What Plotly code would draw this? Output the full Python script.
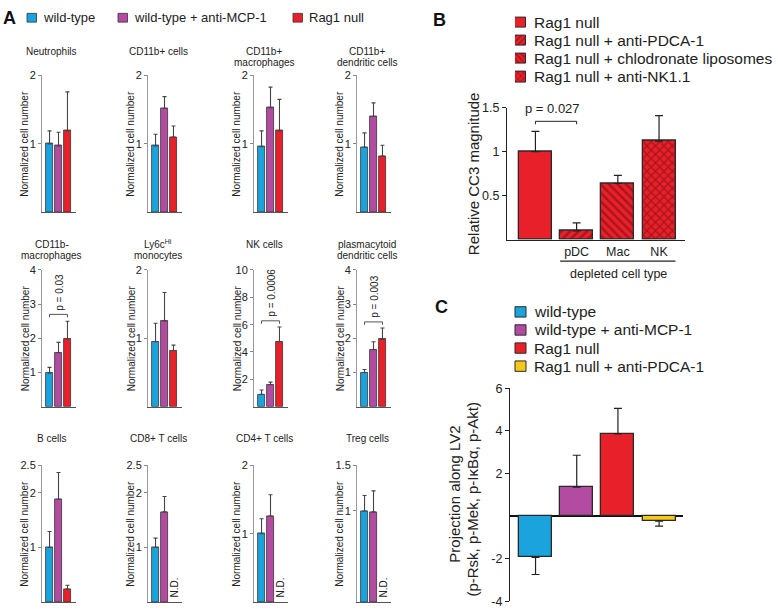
import plotly.graph_objects as go

# ------------------------------------------------------------------ data
group_names = ["wild-type", "wild-type + anti-MCP-1", "Rag1 null"]
group_colors = ["#1aa3dd", "#b34ba1", "#e8202a"]

panel_titles = ["Neutrophils", "CD11b+ cells", "CD11b+<br>macrophages", "CD11b+<br>dendritic cells",
                "CD11b-<br>macrophages", "Ly6c<sup>Hi</sup><br>monocytes", "NK cells",
                "plasmacytoid<br>dendritic cells",
                "B cells", "CD8+ T cells", "CD4+ T cells", "Treg cells"]
wt_mean = [1.00, 0.97, 0.96, 0.95, 0.98, 0.95, 0.90, 1.00, 1.00, 1.00, 1.00, 1.00]
wt_upper = [1.19, 1.14, 1.19, 1.16, 1.15, 1.22, 1.22, 1.09, 1.29, 1.17, 1.22, 1.17]
mcp_mean = [0.97, 1.52, 1.53, 1.40, 1.58, 1.25, 1.60, 1.67, 1.88, 1.65, 1.26, 0.99]
mcp_upper = [1.17, 1.69, 1.83, 1.60, 1.88, 1.67, 1.80, 1.90, 2.37, 1.93, 1.57, 1.22]
rag_mean = [1.19, 1.10, 1.19, 0.82, 1.98, 0.82, 4.75, 1.97, 0.24, None, None, None]
rag_upper = [1.76, 1.26, 1.65, 0.98, 2.50, 0.90, 5.83, 2.30, 0.31, None, None, None]
panel_ymax = [2, 2, 2, 2, 4, 2, 10, 4, 2.5, 2.5, 2, 1.5]
panel_ticks = [[1, 2], [1, 2], [1, 2], [1, 2], [1, 2, 3, 4], [1, 2], [2, 4, 6, 8, 10],
               [1, 2, 3, 4], [1, 2, 2.5], [1, 2, 2.5], [1, 2], [1, 1.5]]
pval_panel = [4, 6, 7]
pval_text = ["p = 0.03", "p = 0.0006", "p = 0.003"]
pval_y = [2.7, 6.28, 2.48]

b_labels = ["Rag1 null", "Rag1 null + anti-PDCA-1", "Rag1 null + chlodronate liposomes",
            "Rag1 null + anti-NK1.1"]
b_cats = ["", "pDC", "Mac", "NK"]
b_mean = [1.00, 0.10, 0.64, 1.12]
b_upper = [1.23, 0.19, 0.73, 1.41]
b_patterns = ["", "/", "\\", "x"]
b_ticks = [0.5, 1, 1.5]
b_pval = "p = 0.027"
b_pval_y = 1.345

c_labels = ["wild-type", "wild-type + anti-MCP-1", "Rag1 null", "Rag1 null + anti-PDCA-1"]
c_colors = ["#1aa3dd", "#b34ba1", "#e8202a", "#f6c918"]
c_mean = [-1.95, 1.35, 3.85, -0.25]
c_err_end = [-2.75, 2.85, 5.05, -0.48]
c_ticks = [-4, -2, 2, 4, 6]

# ------------------------------------------------------------------ layout helpers
W, H = 778, 615
FONT = "Liberation Sans, Arial, sans-serif"


def fx(px):
    return px / W


def fy(py):
    return 1 - py / H


def tick_str(v):
    return str(int(v)) if float(v).is_integer() else str(v)


fig = go.Figure()
lay = dict(width=W, height=H, margin=dict(l=0, r=0, t=0, b=0), plot_bgcolor="rgba(0,0,0,0)",
           paper_bgcolor="white", showlegend=False, font=dict(family=FONT, color="#222"),
           bargap=0)
annotations = []
shapes = []


def ax_names(n):
    return ("x" if n == 1 else f"x{n}", "y" if n == 1 else f"y{n}",
            "xaxis" if n == 1 else f"xaxis{n}", "yaxis" if n == 1 else f"yaxis{n}")


HIDDEN_AXIS = dict(showline=False, showticklabels=False, ticks="", showgrid=False,
                   zeroline=False, fixedrange=True)

# ------------------------------------------------------------------ panel A
col_x = [42, 148, 254, 357]
row_top = [70, 269, 469]
row_base = [210, 409, 609]
title_y = [46, 243, 442]
PW = 34

for i in range(12):
    n = i + 1
    xr, yr, xk, yk = ax_names(n)
    r, c = divmod(i, 4)
    a, top, base = col_x[c], row_top[r], row_base[r]
    means = [wt_mean[i], mcp_mean[i]]
    uppers = [wt_upper[i], mcp_upper[i]]
    if rag_mean[i] is not None:
        means.append(rag_mean[i])
        uppers.append(rag_upper[i])
    xs = list(range(len(means)))
    fig.add_trace(go.Bar(
        x=xs, y=means, width=0.88, xaxis=xr, yaxis=yr,
        marker=dict(color=group_colors[:len(means)], line=dict(color="#333", width=0.8)),
        error_y=dict(type="data", symmetric=False, array=[u - m for u, m in zip(uppers, means)],
                     arrayminus=[0] * len(means), color="#444", thickness=1.1, width=2),
    ))
    lay[xk] = dict(domain=[fx(a), fx(a + PW)], range=[-0.84, 2.95], showline=True,
                   linecolor="#555", linewidth=1, showticklabels=False, ticks="",
                   showgrid=False, zeroline=False, anchor=yr, fixedrange=True)
    lay[yk] = dict(domain=[fy(base), fy(top)], range=[0, panel_ymax[i] * 1.0005],
                   tickvals=panel_ticks[i],
                   ticktext=[tick_str(v) for v in panel_ticks[i]], ticks="outside", ticklen=3,
                   tickcolor="#888", showline=True, linecolor="#999", linewidth=1,
                   showgrid=False, zeroline=False, anchor=xr, tickfont=dict(size=11, color="#222"),
                   ticklabeloverflow="allow", fixedrange=True)
    for k, line in enumerate(panel_titles[i].split("<br>")):
        annotations.append(dict(text=line, x=fx(a + 10), y=fy(title_y[r] + 11 * k), xref="paper",
                                yref="paper", showarrow=False, xanchor="center", yanchor="middle",
                                font=dict(size=10, color="#222")))
    annotations.append(dict(text="Normalized cell number", x=fx(a - 17), y=fy((top + base) / 2),
                            xref="paper", yref="paper", showarrow=False, textangle=-90,
                            xanchor="center", yanchor="middle", font=dict(size=10, color="#222")))
    if rag_mean[i] is None:
        annotations.append(dict(text="N.D.", x=2.1, y=0, xref=xr, yref=yr, showarrow=False,
                                textangle=-90, xanchor="center", yanchor="bottom", yshift=3,
                                font=dict(size=10, color="#222")))

for pi, txt, yv in zip(pval_panel, pval_text, pval_y):
    n = pi + 1
    xr, yr, _, _ = ax_names(n)
    r = pi // 4
    ppu = (row_base[r] - row_top[r]) / panel_ymax[pi]
    t = 3.0 / ppu
    fig.add_trace(go.Scatter(x=[0, 0, 2, 2], y=[yv - t, yv, yv, yv - t], mode="lines",
                             line=dict(color="#555", width=1), xaxis=xr, yaxis=yr,
                             hoverinfo="skip"))
    annotations.append(dict(text=txt, x=1.15, y=yv, xref=xr, yref=yr, showarrow=False,
                            textangle=-90, xanchor="center", yanchor="bottom", yshift=2,
                            font=dict(size=10, color="#222")))

leg_a_sq = [27, 118, 293]
for name, col, sx in zip(group_names, group_colors, leg_a_sq):
    shapes.append(dict(type="rect", xref="paper", yref="paper", x0=fx(sx), x1=fx(sx + 9.5),
                       y0=fy(15.5), y1=fy(6.5), fillcolor=col, line=dict(color="#333", width=0.8)))
    annotations.append(dict(text=name, x=fx(sx + 14), y=fy(11), xref="paper", yref="paper",
                            showarrow=False, xanchor="left", yanchor="middle",
                            font=dict(size=13, color="#222")))

# ------------------------------------------------------------------ panel B
xr, yr, xk, yk = ax_names(13)
fig.add_trace(go.Bar(
    x=list(range(len(b_mean))), y=b_mean, width=0.8, xaxis=xr, yaxis=yr,
    marker=dict(color="#e8202a", line=dict(color="#2a2a2a", width=1.3),
                pattern=dict(shape=b_patterns, fgcolor="#6a0a0e", bgcolor="#e8202a",
                             size=6, solidity=0.4)),
    error_y=dict(type="data", symmetric=False, array=[u - m for u, m in zip(b_upper, b_mean)],
                 arrayminus=[0] * len(b_mean), color="#222", thickness=1.2, width=4),
))
lay[xk] = dict(domain=[fx(507), fx(685)], range=[-0.69, 3.63], showline=True, linecolor="#222",
               linewidth=1.3, tickvals=list(range(1, len(b_cats))), ticktext=b_cats[1:], ticks="",
               showgrid=False, zeroline=False, anchor=yr, tickfont=dict(size=12.5, color="#222"),
               ticklabeloverflow="allow", fixedrange=True)
lay[yk] = dict(domain=[fy(238), fy(103)], range=[0, 1.5005], tickmode="array",
               tickvals=b_ticks, ticktext=[tick_str(v) for v in b_ticks], ticks="outside",
               ticklen=4, tickcolor="#222", showline=True, linecolor="#222", linewidth=1.3,
               showgrid=False, zeroline=False, anchor=xr, tickfont=dict(size=12.5, color="#222"),
               ticklabeloverflow="allow", fixedrange=True)
# p-value bracket (B) drawn as a path in the panel's data coordinates
tb = 3.0 / (135 / 1.5)
shapes.append(dict(type="path", xref=xr, yref=yr,
                   path=f"M 0 {b_pval_y - tb} L 0 {b_pval_y} L 1 {b_pval_y} L 1 {b_pval_y - tb}",
                   line=dict(color="#222", width=1)))
annotations.append(dict(text=b_pval, x=0.42, y=b_pval_y, xref=xr, yref=yr, showarrow=False,
                        xanchor="center", yanchor="bottom", yshift=3,
                        font=dict(size=13, color="#222")))
shapes.append(dict(type="line", xref=xr, yref="paper", x0=0.6, x1=3.4, y0=fy(260), y1=fy(260),
                   line=dict(color="#222", width=1.2)))
annotations.append(dict(text="depleted cell type", x=fx(618), y=fy(273), xref="paper",
                        yref="paper", showarrow=False, xanchor="center", yanchor="middle",
                        font=dict(size=12.5, color="#222")))
annotations.append(dict(text="Relative CC3 magnitude", x=fx(473), y=fy(170), xref="paper",
                        yref="paper", showarrow=False, textangle=-90, xanchor="center",
                        yanchor="middle", font=dict(size=15, color="#222")))

# legend B: mini axis holding the patterned swatches
xr, yr, xk, yk = ax_names(15)
fig.add_trace(go.Bar(
    x=[1] * len(b_labels), y=list(range(len(b_labels))), orientation="h", width=0.58,
    xaxis=xr, yaxis=yr, hoverinfo="skip",
    marker=dict(color="#e8202a", line=dict(color="#2a2a2a", width=1),
                pattern=dict(shape=b_patterns, fgcolor="#6a0a0e", bgcolor="#e8202a",
                             size=4, solidity=0.4)),
))
b_rows = [16, 34.5, 53, 71.5]
step = b_rows[1] - b_rows[0]
lay[xk] = dict(domain=[fx(515), fx(526)], range=[0, 1], anchor=yr, **HIDDEN_AXIS)
lay[yk] = dict(domain=[fy(b_rows[-1] + step / 2), fy(b_rows[0] - step / 2)],
               range=[len(b_labels) - 0.5, -0.5], anchor=xr, **HIDDEN_AXIS)
for lbl, yy in zip(b_labels, b_rows):
    annotations.append(dict(text=lbl, x=fx(532), y=fy(yy), xref="paper", yref="paper",
                            showarrow=False, xanchor="left", yanchor="middle",
                            font=dict(size=15.5, color="#222")))

# ------------------------------------------------------------------ panel C
xr, yr, xk, yk = ax_names(14)
fig.add_trace(go.Bar(
    x=list(range(len(c_mean))), y=c_mean, width=0.8, xaxis=xr, yaxis=yr,
    marker=dict(color=c_colors, line=dict(color="#2a2a2a", width=1.3)),
    error_y=dict(type="data", symmetric=False,
                 array=[max(e - m, 0) for e, m in zip(c_err_end, c_mean)],
                 arrayminus=[max(m - e, 0) for e, m in zip(c_err_end, c_mean)],
                 color="#222", thickness=1.2, width=4),
))
lay[xk] = dict(domain=[fx(510), fx(683)], range=[-0.62, 3.58], showline=False,
               showticklabels=False, ticks="", showgrid=False, zeroline=False, anchor=yr,
               fixedrange=True)
lay[yk] = dict(domain=[fy(608), fy(390)], range=[-4.001, 6.001], tickvals=c_ticks,
               ticktext=[tick_str(v) for v in c_ticks], ticks="outside", ticklen=4,
               tickcolor="#222", showline=True, linecolor="#222", linewidth=1.3, showgrid=False,
               zeroline=True, zerolinecolor="#111", zerolinewidth=1.5, anchor=xr,
               tickfont=dict(size=12.5, color="#222"), ticklabeloverflow="allow",
               fixedrange=True)
annotations.append(dict(text="Projection along LV2", x=fx(455), y=fy(498), xref="paper",
                        yref="paper", showarrow=False, textangle=-90, xanchor="center",
                        yanchor="middle", font=dict(size=15, color="#222")))
annotations.append(dict(text="(p-Rsk, p-Mek, p-I\u03baB\u03b1, p-Akt)", x=fx(473), y=fy(503),
                        xref="paper", yref="paper", showarrow=False, textangle=-90,
                        xanchor="center", yanchor="middle", font=dict(size=15, color="#222")))
c_rows = [312, 330.5, 349, 367.5]
for lbl, col, yy in zip(c_labels, c_colors, c_rows):
    shapes.append(dict(type="rect", xref="paper", yref="paper", x0=fx(515), x1=fx(526),
                       y0=fy(yy + 5.3), y1=fy(yy - 5.3), fillcolor=col,
                       line=dict(color="#2a2a2a", width=1)))
    annotations.append(dict(text=lbl, x=fx(532), y=fy(yy), xref="paper", yref="paper",
                            showarrow=False, xanchor="left", yanchor="middle",
                            font=dict(size=15.5, color="#222")))

for letter, px, py in [("A", 9, 11), ("B", 439, 13), ("C", 441, 307)]:
    annotations.append(dict(text=f"<b>{letter}</b>", x=fx(px), y=fy(py), xref="paper",
                            yref="paper", showarrow=False, xanchor="center", yanchor="middle",
                            font=dict(size=18, color="#111")))

lay["annotations"] = annotations
lay["shapes"] = shapes
fig.update_layout(**lay)
fig.write_html("out.html", config={"displayModeBar": False},
               post_script="document.body.style.margin='0px';document.body.style.overflow='hidden';")
